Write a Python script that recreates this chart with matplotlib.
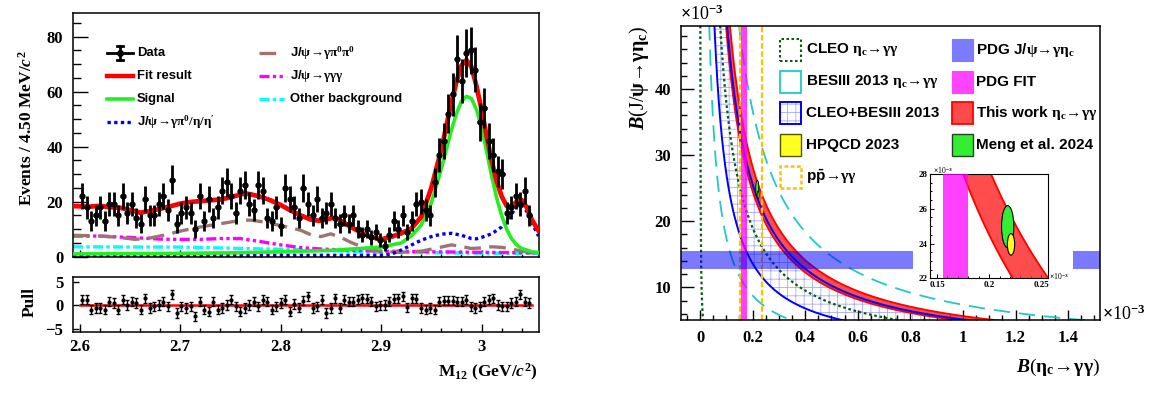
import numpy as np
import matplotlib
matplotlib.use('Agg')
import matplotlib.pyplot as plt
from matplotlib.patches import Rectangle, Ellipse
from matplotlib.ticker import MultipleLocator, FuncFormatter

plt.rcParams['font.family'] = ['Liberation Serif', 'DejaVu Serif']
plt.rcParams['font.weight'] = 'bold'
plt.rcParams['mathtext.fontset'] = 'custom'
plt.rcParams['mathtext.rm'] = 'Liberation Serif'
plt.rcParams['mathtext.it'] = 'Liberation Serif:italic'
plt.rcParams['mathtext.bf'] = 'Liberation Serif:bold'
plt.rcParams['mathtext.sf'] = 'Liberation Sans:bold'
plt.rcParams['hatch.linewidth'] = 0.6

# ---------------- left panel data ----------------
bin_lo, bin_hi, nbins = 2.6, 3.05, 100
counts = [22, 18, 13, 15, 18, 13, 19, 19, 15, 22, 16, 19, 14, 12, 21, 15, 15, 19, 22, 17,
          28, 12, 16, 18, 16, 10, 22, 13, 21, 14, 18, 24, 27, 22, 16, 24, 26, 19, 17, 26,
          24, 14, 13, 18, 11, 25, 21, 18, 14, 25,
          19, 15, 21, 14, 16, 19, 14, 12, 15, 12, 15, 10, 8, 10, 7, 9, 6, 4, 8, 13,
          10, 15, 9, 13, 19, 20, 17, 15, 27, 37, 42, 52, 59, 72, 64, 74, 75, 68, 49, 54,
          42, 37, 31, 30, 16, 18, 22, 19, 24, 15]
pulls = [1.2, 1.2, -0.9, -0.6, -0.6, -0.9, 0.8, 0.5, -0.9, 1.2, 0.1, 0.8, 0.5, -0.9, 1.5,
         -0.6, -0.2, 0.1, 0.8, -0.2, 2.3, -1.6, -0.2, -0.6, -0.2, -2.3, 0.8, -0.9, -1.3, 0.8,
         -0.9, -0.6, 0.1, 1.2, -0.2, -1.3, -0.6, 0.1, 0.8, -0.2, 1.2, 0.8, -0.9, -0.2, 0.5,
         1.2, -1.3, 0.3, -0.5, 1.0,
         1.9, -0.6, -0.2, 1.2, -1.6, -0.6, 1.5, -0.6, 1.2, 0.8, 0.8, 1.2, 1.5, 1.4, 0.8,
         -0.2, 0.0, 0.1, 0.8, 1.4, 1.5, 1.9, -0.4, 1.5, 1.4, -0.6, -0.9, -0.6, -0.9, 0.8,
         1.0, 1.0, 1.0, 0.8, 0.8, 1.2, -0.2, -0.6, -0.2, 0.8, 1.2, 1.5, 0.1, -0.2, -0.2,
         0.5, 0.8, 2.3, 0.8, 0.5]

fit_m = [2.5933, 2.61, 2.62, 2.63, 2.64, 2.65, 2.66, 2.67, 2.68, 2.69, 2.70, 2.71, 2.72, 2.73,
         2.74, 2.75, 2.76, 2.765, 2.77, 2.78, 2.79, 2.80, 2.81, 2.82, 2.83, 2.84, 2.85, 2.855,
         2.86, 2.87, 2.88, 2.89, 2.90, 2.91, 2.92, 2.93, 2.94, 2.95, 2.96, 2.97, 2.975, 2.98,
         2.985, 2.99, 2.995, 3.00, 3.005, 3.01, 3.015, 3.02, 3.025, 3.03, 3.035, 3.04, 3.045,
         3.05, 3.0567]
fit_y = [18.4, 18.2, 18.5, 18.0, 17.8, 17.0, 16.0, 16.6, 17.4, 18.3, 19.3, 19.9, 20.2, 20.5,
         20.8, 21.6, 22.6, 23.0, 22.7, 21.8, 20.5, 18.8, 16.8, 15.0, 13.5, 13.0, 14.0, 14.1,
         13.0, 10.8, 8.8, 7.2, 6.3, 7.2, 8.5, 10.2, 14.5, 25.0, 39.0, 56.0, 63.5, 69.5,
         71.5, 69.0, 62.0, 53.5, 44.0, 35.0, 27.5, 22.0, 18.5, 18.3, 20.0, 20.6, 18.0,
         13.5, 9.5]
sig_m = [2.5933, 2.65, 2.70, 2.75, 2.80, 2.85, 2.88, 2.90, 2.92, 2.93, 2.94, 2.95, 2.96, 2.97,
         2.975, 2.98, 2.985, 2.99, 2.995, 3.00, 3.005, 3.01, 3.015, 3.02, 3.025, 3.03, 3.035,
         3.04, 3.05, 3.0567]
sig_y = [1.0, 1.1, 1.2, 1.4, 1.8, 2.3, 3.0, 3.5, 5.0, 7.5, 11.5, 19.5, 32.0, 46.0, 52.0, 56.5,
         58.3, 57.5, 53.5, 47.0, 38.5, 29.5, 21.5, 15.0, 10.0, 6.5, 4.3, 3.0, 1.8, 1.5]
peak_m = [2.5933, 2.90, 2.91, 2.92, 2.93, 2.94, 2.95, 2.96, 2.97, 2.98, 2.99, 2.995, 3.00, 3.01,
          3.02, 3.03, 3.035, 3.04, 3.045, 3.05, 3.0567]
peak_y = [0.5, 0.5, 0.9, 2.4, 4.2, 6.0, 7.3, 8.2, 8.5, 7.8, 6.6, 6.5, 7.0, 8.3, 10.8, 15.5, 18.3,
          18.8, 16.5, 12.5, 7.5]
pipi_m = [2.5933, 2.62, 2.64, 2.655, 2.67, 2.685, 2.70, 2.72, 2.74, 2.76, 2.77, 2.78, 2.79, 2.80,
          2.81, 2.82, 2.83, 2.84, 2.85, 2.86, 2.87, 2.88, 2.89, 2.90, 2.92, 2.94, 2.96, 2.97,
          2.98, 2.99, 3.00, 3.01, 3.02, 3.03, 3.04, 3.0567]
pipi_y = [7.8, 7.5, 7.0, 6.3, 6.8, 7.9, 9.3, 10.8, 12.0, 13.2, 13.3, 12.8, 12.1, 11.3, 10.5, 9.6,
          8.0, 7.3, 8.3, 7.0, 5.2, 3.7, 2.5, 1.9, 1.6, 2.0, 3.5, 4.3, 3.7, 3.0, 3.2, 3.6, 3.4,
          2.8, 2.0, 1.5]
ggg_m = [2.5933, 2.62, 2.65, 2.68, 2.70, 2.72, 2.74, 2.76, 2.78, 2.80, 2.82, 2.84, 2.86, 2.90,
         2.95, 3.00, 3.0567]
ggg_y = [7.5, 7.5, 7.0, 6.4, 6.3, 6.3, 6.6, 6.6, 5.5, 4.3, 3.3, 2.8, 2.5, 2.0, 1.8, 1.6, 1.4]
oth_m = [2.5933, 2.70, 2.80, 2.85, 2.90, 3.00, 3.0567]
oth_y = [3.6, 3.5, 2.7, 2.2, 1.6, 1.3, 1.2]

# ---------------- right panel data (x10^-3 units, products x10^-6) ----------------
cleo_prod = [0.06, 3.8]
bes_prod = [1.75, 7.35]
comb_prod = [2.72, 5.12]
this_prod = [4.9, 5.65]
pdg_jpsi = [12.7, 15.5]
pdg_fit = [0.156, 0.180]
ppbar_x = [0.153, 0.235]
meng = [0.2178, 24.97, 0.0059, 1.21]
hpqcd = [0.221, 23.95, 0.0035, 0.62]

W, H = 1156, 394
fig = plt.figure(figsize=(W / 100, H / 100), dpi=100)


def fr(x0, y0, x1, y1):
    return [x0 / W, 1 - y1 / H, (x1 - x0) / W, (y1 - y0) / H]


def F(x, y):
    return (x / W, 1 - y / H)


ax = fig.add_axes(fr(73, 12.7, 538.5, 256.7))
axp = fig.add_axes(fr(73, 276.7, 538.5, 331.7))
axr = fig.add_axes(fr(680.7, 25.7, 1100, 320))
axi = fig.add_axes(fr(930, 174, 1048.3, 278.3))
axi.set_zorder(5)

# ---------------- left main ----------------
binw = (bin_hi - bin_lo) / nbins
centers = bin_lo + (np.arange(nbins) + 0.5) * binw
cnt = np.array(counts, dtype=float)

ax.plot(oth_m, oth_y, color='#00ffff', lw=2.4, ls=(0, (3, 1, 1, 1)), zorder=2)
ax.plot(ggg_m, ggg_y, color='#ff00ff', lw=2.4, ls=(0, (3, 1, 1, 1, 1, 1)), zorder=2)
ax.plot(pipi_m, pipi_y, color='#9c7474', lw=2.4, ls=(0, (5, 2.5)), zorder=2)
ax.plot(peak_m, peak_y, color='#0000ee', lw=2.4, ls=(0, (1, 1)), zorder=2)
ax.plot(sig_m, sig_y, color='#22ee22', lw=2.6, zorder=3)
ax.plot(fit_m, fit_y, color='#ff0000', lw=3.4, zorder=4)
ax.errorbar(centers, cnt, yerr=np.sqrt(cnt), xerr=binw / 2, fmt='o', color='black', ms=3.5,
            elinewidth=2.0, capsize=0, zorder=5)

ax.set_xlim(2.59325, 3.05675)
ax.set_ylim(0, 88.7)
ax.xaxis.set_major_locator(MultipleLocator(0.1))
ax.xaxis.set_minor_locator(MultipleLocator(0.02))
ax.yaxis.set_major_locator(MultipleLocator(20))
ax.yaxis.set_minor_locator(MultipleLocator(5))
ax.tick_params(axis='both', which='both', direction='in', top=False, right=False, labelsize=12)
ax.tick_params(axis='y', which='major', length=10.5, width=1, pad=7)
ax.tick_params(axis='y', which='minor', length=5.5, width=1)
ax.tick_params(axis='x', which='major', length=5, width=1, labelbottom=False)
ax.tick_params(axis='x', which='minor', length=2.5, width=1)
for s in ax.spines.values():
    s.set_linewidth(1.1)

# left legend


def axf(px, py):
    return ((px - 73) / 465.5, (256.7 - py) / 244)


lfont = dict(family='Liberation Sans', weight='bold', size=9.4, va='center', ha='left')
rows = [53.3, 76.0, 99.0, 121.7]
# Data symbol
x0, x1 = axf(107, rows[0])[0], axf(133, rows[0])[0]
xc = axf(120, rows[0])[0]
yc = axf(0, rows[0])[1]
ya, yb = axf(0, rows[0] - 7)[1], axf(0, rows[0] + 7)[1]
ax.plot([x0, x1], [yc, yc], color='k', lw=2, transform=ax.transAxes, clip_on=False)
ax.plot([xc, xc], [yb, ya], color='k', lw=2, transform=ax.transAxes, clip_on=False)
for yy in (ya, yb):
    ax.plot([axf(117, 0)[0], axf(123, 0)[0]], [yy, yy], color='k', lw=2, transform=ax.transAxes)
ax.plot([xc], [yc], 'o', color='k', ms=4, transform=ax.transAxes)
leg1 = [("Fit result", dict(color='#ff0000', lw=3.2, ls='-')),
        ("Signal", dict(color='#22ee22', lw=2.6, ls='-')),
        (r"J/$\mathrm{\psi\!\rightarrow\!\gamma\pi^{0}/\eta/\eta'}$", dict(color='#0000ee', lw=2.4, ls=(0, (1, 1))))]
ax.text(*axf(137, rows[0]), "Data", transform=ax.transAxes, **lfont)
for (lab, st), r in zip(leg1, rows[1:]):
    ax.plot([axf(107, r)[0], axf(133, r)[0]], [axf(0, r)[1]] * 2, transform=ax.transAxes, **st)
    ax.text(*axf(137, r), lab, transform=ax.transAxes, **lfont)
leg2 = [(r"J/$\mathrm{\psi\!\rightarrow\!\gamma\pi^{0}\pi^{0}}$", dict(color='#9c7474', lw=2.4, ls=(0, (5, 2.5)))),
        (r"J/$\mathrm{\psi\!\rightarrow\!\gamma\gamma\gamma}$", dict(color='#ff00ff', lw=2.4, ls=(0, (3, 1, 1, 1, 1, 1)))),
        ("Other background", dict(color='#00ffff', lw=2.4, ls=(0, (3, 1, 1, 1))))]
for (lab, st), r in zip(leg2, rows[:3]):
    ax.plot([axf(259, r)[0], axf(284, r)[0]], [axf(0, r)[1]] * 2, transform=ax.transAxes, **st)
    ax.text(*axf(290, r), lab, transform=ax.transAxes, **lfont)

# ---------------- pull ----------------
axp.errorbar(centers, pulls, yerr=1.0, fmt='o', color='black', ms=2, elinewidth=1.0,
             capsize=1.5, capthick=1.0, zorder=3)
axp.plot([bin_lo, bin_hi], [0, 0], color='#ff0000', lw=1.8, zorder=2)
axp.set_xlim(2.59325, 3.05675)
axp.set_ylim(-5.57, 6.06)
axp.xaxis.set_major_locator(MultipleLocator(0.1))
axp.xaxis.set_minor_locator(MultipleLocator(0.02))
axp.yaxis.set_major_locator(MultipleLocator(5))
axp.xaxis.set_major_formatter(FuncFormatter(lambda v, p: f"{v:g}"))
axp.tick_params(axis='both', which='both', direction='in', top=False, right=False, labelsize=12)
axp.tick_params(axis='x', which='major', length=6, width=1, pad=5)
axp.tick_params(axis='x', which='minor', length=3, width=1)
axp.tick_params(axis='y', which='major', length=4, width=1, pad=7)
for s in axp.spines.values():
    s.set_linewidth(1.1)

fig.text(27 / W, 1 - 128 / H, r"Events / 4.50 MeV/$\mathit{c}^{2}$", rotation=90, ha='center',
         va='center', fontsize=12.5, weight='bold')
fig.text(30 / W, 1 - 302 / H, "Pull", rotation=90, ha='center', va='center', fontsize=12.5,
         weight='bold')
fig.text(538 / W, 1 - 372 / H, r"M$_{\mathbf{12}}$ (GeV/$\mathit{c}^{2}$)", ha='right',
         va='center', fontsize=12.5, weight='bold')

# ---------------- right panel ----------------
xs = np.geomspace(0.0008, 1.7, 3000)
axr.fill_between(xs, comb_prod[0] / xs, comb_prod[1] / xs, facecolor='none',
                 edgecolor='#a8a8ff', hatch='++', linewidth=0, zorder=1)
axr.fill_between(xs, this_prod[0] / xs, this_prod[1] / xs, facecolor='#ff1a1a', alpha=0.78,
                 linewidth=0, zorder=2)
for p in this_prod:
    axr.plot(xs, p / xs, color='#ff0000', lw=1.3, zorder=2.5)
for p in cleo_prod:
    axr.plot(xs, p / xs, color='#0a5e0a', lw=1.6, ls=(0, (1.2, 1.2)), zorder=3)
for p in bes_prod:
    axr.plot(xs, p / xs, color='#22c8c8', lw=1.3, ls=(0, (9, 5)), zorder=3)
for p in comb_prod:
    axr.plot(xs, p / xs, color='#0000ff', lw=1.4, zorder=3)
for xv in ppbar_x:
    axr.axvline(xv, color='#ffc000', lw=1.6, ls=(0, (2.5, 1.2)), zorder=3)
axr.axvspan(pdg_fit[0], pdg_fit[1], color='#ff00ff', alpha=0.75, lw=0, zorder=4)
axr.axhspan(pdg_jpsi[0], pdg_jpsi[1], color='#0000ff', alpha=0.52, lw=0, zorder=4)
axr.add_patch(Ellipse((meng[0], meng[1]), 2 * meng[2], 2 * meng[3], facecolor='#33ee33',
                      edgecolor='k', lw=0.6, zorder=5))
axr.add_patch(Ellipse((hpqcd[0], hpqcd[1]), 2 * hpqcd[2], 2 * hpqcd[3], facecolor='#ffff22',
                      edgecolor='k', lw=0.6, zorder=5))
# white pad behind inset
axr.add_patch(Rectangle(F(913, 284), 160 / W, 124 / H, transform=fig.transFigure,
                        facecolor='white', edgecolor='none', zorder=10, clip_on=False))
axr.set_xlim(-0.0734, 1.521)
axr.set_ylim(5.05, 49.58)
axr.xaxis.set_major_locator(MultipleLocator(0.2))
axr.xaxis.set_minor_locator(MultipleLocator(0.05))
axr.yaxis.set_major_locator(MultipleLocator(10))
axr.yaxis.set_minor_locator(MultipleLocator(2))
axr.xaxis.set_major_formatter(FuncFormatter(lambda v, p: f"{v:g}"))
axr.tick_params(axis='both', which='both', direction='in', top=False, right=False, labelsize=12)
axr.tick_params(axis='y', which='major', length=9, width=1, pad=7)
axr.tick_params(axis='y', which='minor', length=4.5, width=1)
axr.tick_params(axis='x', which='major', length=7, width=1, pad=7)
axr.tick_params(axis='x', which='minor', length=3.5, width=1)
for s in axr.spines.values():
    s.set_linewidth(1.1)
    s.set_zorder(11)

fig.text(680 / W, 1 - 14 / H, r"$\times$10$^{-3}$", ha='left', va='center', fontsize=13,
         weight='normal')
fig.text(1102 / W, 1 - 314 / H, r"$\times$10$^{-3}$", ha='left', va='center', fontsize=13,
         weight='normal')
fig.text(1100 / W, 1 - 367 / H, r"$\mathit{B}$($\mathrm{\eta_{c}\!\rightarrow\!\gamma\gamma}$)",
         ha='right', va='center', fontsize=14, weight='normal')
fig.text(639 / W, 1 - 26 / H, r"$\mathit{B}$(J/$\mathrm{\psi\!\rightarrow\!\gamma\eta_{c}}$)",
         rotation=90, ha='center', va='top', fontsize=14.5, weight='normal')

# right legend (figure pixel coords)
rfont = dict(family='Liberation Sans', weight='bold', size=11, va='center', ha='left')


def box(x0, yc, **kw):
    fig.add_artist(Rectangle(F(x0, yc + 11), 21 / W, 22 / H, transform=fig.transFigure, **kw))


r_rows = [50, 81.7, 113.3, 145, 176.7]
box(780, r_rows[0], facecolor='white', edgecolor='#0a5e0a', lw=1.5, ls=(0, (1.2, 1.2)))
box(780, r_rows[1], facecolor='white', edgecolor='#22c8c8', lw=1.3)
box(780, r_rows[2], facecolor='white', edgecolor='#a8a8ff', lw=0, hatch='++')
box(780, r_rows[2], facecolor='none', edgecolor='#0000ff', lw=1.4)
box(780, r_rows[3], facecolor='#ffff22', edgecolor='#555500', lw=1.0)
box(780, r_rows[4], facecolor='white', edgecolor='#ffc000', lw=1.8, ls=(0, (1.5, 1)))
fig.text(*F(806, r_rows[0]), r"CLEO $\mathrm{\eta_{c}\!\rightarrow\!\gamma\gamma}$", **rfont)
fig.text(*F(806, r_rows[1]), r"BESIII 2013 $\mathrm{\eta_{c}\!\rightarrow\!\gamma\gamma}$", **rfont)
fig.text(*F(806, r_rows[2]), "CLEO+BESIII 2013", **rfont)
fig.text(*F(806, r_rows[3]), "HPQCD 2023", **rfont)
fig.text(*F(806, r_rows[4]), r"$\mathsf{p\bar{p}}\mathrm{\!\rightarrow\!\gamma\gamma}$", **rfont)
box(951.7, r_rows[0], facecolor='#7b7bff', edgecolor='#7b7bff', lw=0.8)
box(951.7, r_rows[1], facecolor='#ff44ff', edgecolor='#ff44ff', lw=0.8)
box(951.7, r_rows[2], facecolor='#ff4a4a', edgecolor='#ff0000', lw=1.3)
box(951.7, r_rows[3], facecolor='#33ee33', edgecolor='#224422', lw=1.0)
fig.text(*F(976, r_rows[0]), r"PDG J/$\mathrm{\psi\!\rightarrow\!\gamma\eta_{c}}$", **rfont)
fig.text(*F(976, r_rows[1]), "PDG FIT", **rfont)
fig.text(*F(976, r_rows[2]), r"This work $\mathrm{\eta_{c}\!\rightarrow\!\gamma\gamma}$", **rfont)
fig.text(*F(976, r_rows[3]), "Meng et al. 2024", **rfont)

# ---------------- inset ----------------
xi = np.linspace(0.10, 0.30, 600)
axi.fill_between(xi, this_prod[0] / xi, this_prod[1] / xi, facecolor='#ff1a1a', alpha=0.78,
                 linewidth=0, zorder=2)
for p in this_prod:
    axi.plot(xi, p / xi, color='#ff0000', lw=1.3, zorder=2.5)
axi.axvspan(pdg_fit[0], pdg_fit[1], color='#ff00ff', alpha=0.75, lw=0, zorder=3)
axi.add_patch(Ellipse((meng[0], meng[1]), 2 * meng[2], 2 * meng[3], facecolor='#33ee33',
                      edgecolor='k', lw=0.8, zorder=5))
axi.add_patch(Ellipse((hpqcd[0], hpqcd[1]), 2 * hpqcd[2], 2 * hpqcd[3], facecolor='#ffff22',
                      edgecolor='k', lw=0.8, zorder=5))
axi.set_xlim(0.1432, 0.2568)
axi.set_ylim(22, 28)
axi.xaxis.set_major_locator(MultipleLocator(0.05))
axi.xaxis.set_minor_locator(MultipleLocator(0.01))
axi.yaxis.set_major_locator(MultipleLocator(2))
axi.yaxis.set_minor_locator(MultipleLocator(0.5))
axi.xaxis.set_major_formatter(FuncFormatter(lambda v, p: f"{v:g}"))
axi.tick_params(axis='both', which='both', direction='in', top=False, right=False, labelsize=6.5)
axi.tick_params(axis='both', which='major', length=3, width=0.7, pad=2)
axi.tick_params(axis='both', which='minor', length=1.5, width=0.7)
for s in axi.spines.values():
    s.set_linewidth(0.8)
fig.text(933 / W, 1 - 170 / H, r"$\times$10$^{-3}$", ha='left', va='center', fontsize=5.5,
         weight='normal', zorder=20)
fig.text(1049 / W, 1 - 276 / H, r"$\times$10$^{-3}$", ha='left', va='center', fontsize=5.5,
         weight='normal', zorder=20)

fig.savefig('out.png', dpi=100)
